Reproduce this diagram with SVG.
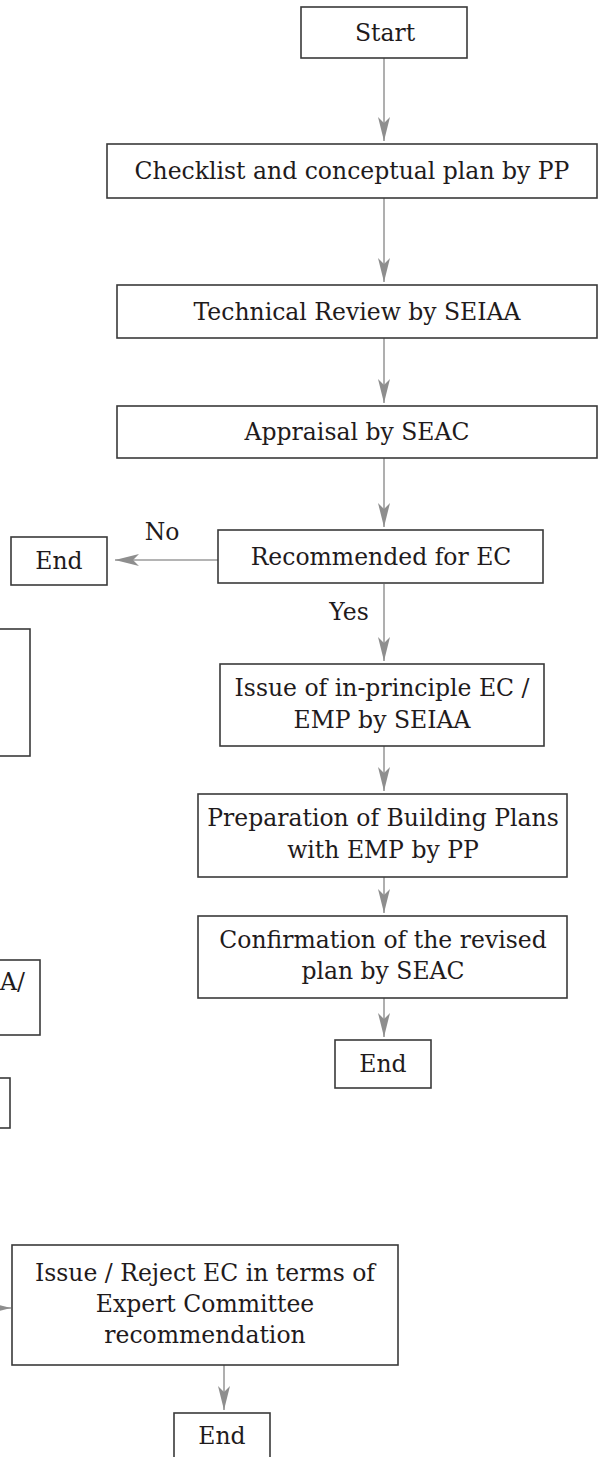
<svg xmlns="http://www.w3.org/2000/svg" width="598" height="1457" viewBox="0 0 598 1457">
<style>
.box{fill:#fff;stroke:#3a3a3a;stroke-width:1.6}
.t{font-family:"DejaVu Serif","Liberation Serif",serif;font-size:23.5px;fill:#1f1b1c;text-anchor:middle}
.c{stroke:#9b9b9b;stroke-width:1.6;fill:none;marker-end:url(#ah)}
</style>
<defs>
<marker id="ah" markerUnits="userSpaceOnUse" viewBox="0 0 24 12" refX="24" refY="6" markerWidth="24" markerHeight="12" orient="auto">
<path d="M0,0 L24,6 L0,12 L6,6 z" fill="#8e8e8e"/>
</marker>
</defs>
<rect width="598" height="1457" fill="#fff"/>
<g id="connectors">
<line class="c" x1="384" y1="58" x2="384" y2="141"/>
<line class="c" x1="384" y1="198" x2="384" y2="282"/>
<line class="c" x1="384" y1="338" x2="384" y2="403"/>
<line class="c" x1="384" y1="458" x2="384" y2="527"/>
<line class="c" x1="218" y1="560" x2="115" y2="560"/>
<line class="c" x1="384" y1="584" x2="384" y2="661"/>
<line class="c" x1="384" y1="746" x2="384" y2="791"/>
<line class="c" x1="384" y1="877" x2="384" y2="913"/>
<line class="c" x1="384" y1="998" x2="384" y2="1037"/>
<line class="c" x1="-30" y1="1308" x2="11" y2="1308"/>
<line class="c" x1="224" y1="1365" x2="224" y2="1410"/>
</g>
<g id="n-start"><rect class="box" x="301" y="7" width="166" height="51"/><text class="t" x="385" y="41">Start</text></g>
<g id="n-checklist"><rect class="box" x="107" y="144" width="490" height="54"/><text class="t" x="352" y="179">Checklist and conceptual plan by PP</text></g>
<g id="n-technical"><rect class="box" x="117" y="285" width="480" height="53"/><text class="t" x="357" y="320">Technical Review by SEIAA</text></g>
<g id="n-appraisal"><rect class="box" x="117" y="406" width="480" height="52"/><text class="t" x="357" y="440">Appraisal by SEAC</text></g>
<g id="n-recommended"><rect class="box" x="218" y="530" width="325" height="53"/><text class="t" x="381" y="565">Recommended for EC</text></g>
<g id="n-end1"><rect class="box" x="11" y="537" width="96" height="48"/><text class="t" x="59" y="569">End</text></g>
<g id="labels">
<text class="t" x="162" y="540">No</text>
<text class="t" x="349" y="620">Yes</text>
</g>
<g id="n-inprinciple"><rect class="box" x="220" y="664" width="324" height="82"/><text class="t" x="382" y="696">Issue of in-principle EC /</text><text class="t" x="382" y="728">EMP by SEIAA</text></g>
<g id="n-preparation"><rect class="box" x="198" y="794" width="369" height="83"/><text class="t" x="383" y="826">Preparation of Building Plans</text><text class="t" x="383" y="858">with EMP by PP</text></g>
<g id="n-confirmation"><rect class="box" x="198" y="916" width="369" height="82"/><text class="t" x="383" y="948">Confirmation of the revised</text><text class="t" x="383" y="979">plan by SEAC</text></g>
<g id="n-end2"><rect class="box" x="335" y="1040" width="96" height="48"/><text class="t" x="383" y="1072">End</text></g>
<g id="n-left1"><rect class="box" x="-100" y="629" width="130" height="127"/></g>
<g id="n-left2"><rect class="box" x="-100" y="960" width="140" height="75"/><text class="t" x="25" y="990" style="text-anchor:end">A/</text></g>
<g id="n-left3"><rect class="box" x="-100" y="1078" width="110" height="50"/></g>
<g id="n-issue-reject"><rect class="box" x="12" y="1245" width="386" height="120"/><text class="t" x="205" y="1281">Issue / Reject EC in terms of</text><text class="t" x="205" y="1312">Expert Committee</text><text class="t" x="205" y="1343">recommendation</text></g>
<g id="n-end3"><rect class="box" x="174" y="1413" width="96" height="60"/><text class="t" x="222" y="1444">End</text></g>
</svg>
